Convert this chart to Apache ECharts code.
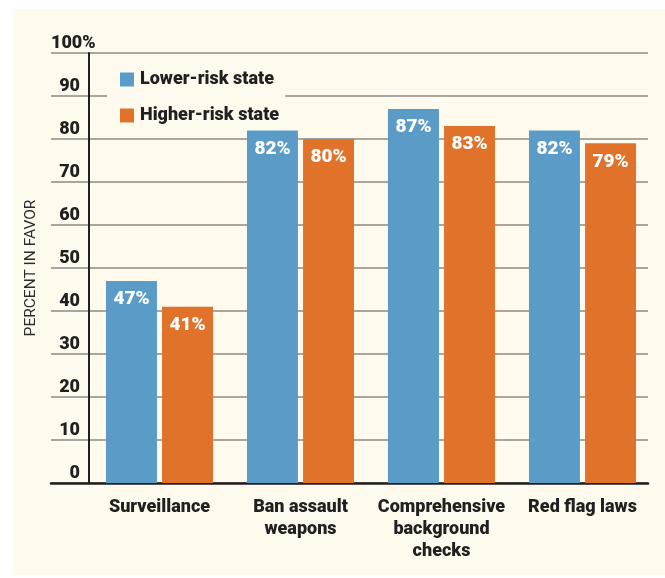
<!DOCTYPE html>
<html>
<head>
<meta charset="utf-8">
<script src="https://cdn.jsdelivr.net/npm/echarts@6/dist/echarts.min.js"></script>
<style>
  html, body { margin: 0; padding: 0; background: #ffffff; }
  #panel { position: absolute; left: 13px; top: 9px; width: 652px; height: 566px; background: #fefbee; }
  #chart { position: absolute; left: 0; top: 0; width: 665px; height: 578px; }
</style>
</head>
<body>
<div id="panel"></div>
<div id="chart"></div>
<script>
// Support for gun policies, by state risk level
const categories = ['Surveillance', 'Ban assault\nweapons', 'Comprehensive\nbackground\nchecks', 'Red flag laws'];
const lowerRisk = [47, 82, 87, 82];
const higherRisk = [41, 80, 83, 79];
const seriesNames = ['Lower-risk state', 'Higher-risk state'];
const yMin = 0, yMax = 100, yStep = 10;

const FONT = "Roboto, 'Liberation Sans', sans-serif";
const HEAVY = 900;
const INK = '#231f20';
const BLUE = '#5a9cc7';
const ORANGE = '#e07329';
const CREAM = '#fefbee';

const chart = echarts.init(document.getElementById('chart'), null, { renderer: 'canvas' });

chart.setOption({
  backgroundColor: 'transparent',
  animation: false,
  legend: {
    orient: 'vertical',
    left: 107,
    top: 65,
    padding: [4, 6, 4, 13],
    itemGap: 15,
    itemWidth: 14,
    itemHeight: 14,
    icon: 'rect',
    backgroundColor: CREAM,
    textStyle: { fontFamily: FONT, fontWeight: HEAVY, fontSize: 18, color: INK, lineHeight: 21, padding: [0, 0, 0, 1] },
    data: seriesNames
  },
  grid: [
    // wide grid: horizontal rules and baseline reaching past the axis
    { left: 51, right: 17, top: 53, bottom: 95, containLabel: false },
    // plotting grid for the bars
    { left: 89, right: 12, top: 53, bottom: 95, containLabel: false }
  ],
  xAxis: [
    {
      gridIndex: 0, type: 'category', data: categories,
      axisLine: { show: true, lineStyle: { color: INK, width: 2.5 } },
      axisTick: { show: false }, axisLabel: { show: false }, splitLine: { show: false }
    },
    {
      gridIndex: 1, type: 'category', data: categories,
      axisLine: { show: false }, axisTick: { show: false },
      axisLabel: {
        fontFamily: FONT, fontWeight: HEAVY, fontSize: 18, color: INK,
        lineHeight: 22, margin: 13, interval: 0
      }
    }
  ],
  yAxis: [
    {
      gridIndex: 0, type: 'value', min: yMin, max: yMax, interval: yStep,
      axisLine: { show: false }, axisTick: { show: false },
      splitLine: { show: true, lineStyle: { color: '#8c8a84', width: 1.5 } },
      axisLabel: {
        inside: true, margin: 0, align: 'left', verticalAlign: 'bottom',
        fontFamily: FONT, fontWeight: HEAVY, fontSize: 18, color: INK, padding: [0, 0, 1, 0],
        formatter: v => (v === yMax ? v + '%' : '')
      }
    },
    {
      gridIndex: 1, type: 'value', min: yMin, max: yMax, interval: yStep,
      name: 'PERCENT IN FAVOR', nameLocation: 'middle', nameGap: 50, nameRotate: 90,
      nameTextStyle: { fontFamily: FONT, fontSize: 15.5, color: '#2b2b2b' },
      axisLine: { show: true, lineStyle: { color: INK, width: 2 } },
      axisTick: { show: false },
      splitLine: { show: false },
      axisLabel: {
        margin: 9, verticalAlign: 'bottom',
        fontFamily: FONT, fontWeight: HEAVY, fontSize: 18, color: INK, padding: [0, 0, 1, 0],
        formatter: v => (v === yMax ? '' : String(v))
      }
    }
  ],
  series: [
    {
      name: seriesNames[0], type: 'bar', xAxisIndex: 1, yAxisIndex: 1,
      data: lowerRisk, barWidth: 51, barGap: '10%',
      itemStyle: { color: BLUE },
      label: {
        show: true, position: 'insideTop', distance: 9,
        fontFamily: FONT, fontWeight: HEAVY, fontSize: 19, color: '#ffffff',
        formatter: p => p.value + '%'
      }
    },
    {
      name: seriesNames[1], type: 'bar', xAxisIndex: 1, yAxisIndex: 1,
      data: higherRisk, barWidth: 51, barGap: '10%',
      itemStyle: { color: ORANGE },
      label: {
        show: true, position: 'insideTop', distance: 9,
        fontFamily: FONT, fontWeight: HEAVY, fontSize: 19, color: '#ffffff',
        formatter: p => p.value + '%'
      }
    }
  ]
});
</script>
</body>
</html>
